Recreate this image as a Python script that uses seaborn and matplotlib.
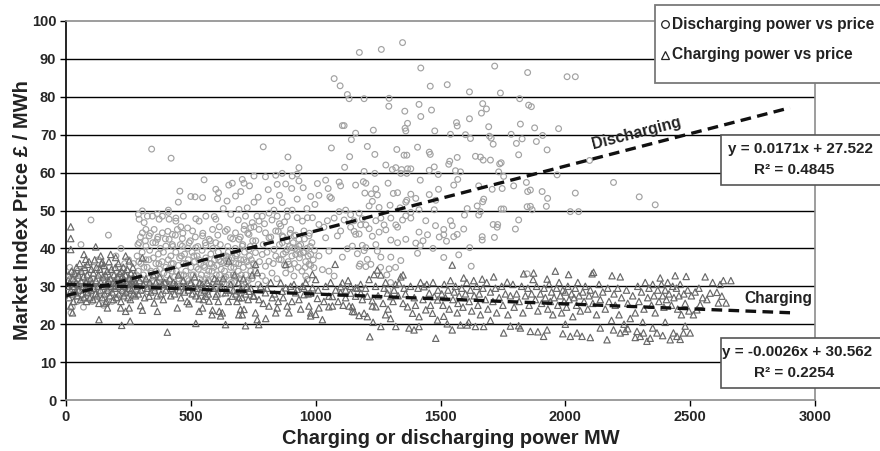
import pandas as pd
import matplotlib.pyplot as plt
import seaborn as sns
from matplotlib.lines import Line2D
from matplotlib.patches import Rectangle

# Discharging power (MW) vs market index price (GBP/MWh)
discharge_0_280 = [
    (15, 35), (20, 23), (25, 24.5), (30, 33), (35, 31), (40, 28), (45, 26), (50, 32), (55, 30), (60, 41),
    (65, 29), (70, 24.5), (75, 34), (80, 27), (85, 31), (90, 33), (95, 29), (100, 47.5), (105, 26), (110, 35),
    (115, 30), (120, 28), (125, 32), (130, 37), (135, 27), (140, 33), (145, 30), (150, 25), (155, 34), (160, 31),
    (165, 28), (170, 43.5), (175, 35), (180, 29), (185, 26), (190, 33), (195, 31), (200, 38), (205, 27), (210, 35),
    (215, 30), (220, 40), (225, 32), (230, 28), (235, 36), (240, 30), (245, 34), (250, 37), (255, 29), (260, 33),
    (265, 31), (270, 36), (275, 28), (10, 30), (18, 32), (28, 29), (48, 34), (68, 31), (88, 28), (108, 32),
    (128, 30), (148, 29), (168, 33), (188, 30), (208, 32), (228, 30), (248, 31), (268, 32),
]
discharge_280_750 = [
    (343, 66.2), (421, 63.8), (553, 58.1), (600, 55.6), (611, 54.7), (607, 53.1), (456, 55.1), (450, 52.2),
    (500, 53.7), (517, 53.6), (547, 53.4), (410, 50.1),
    (290, 49), (306, 49.9), (326, 48.5), (293, 47.7), (313, 46.8), (320, 45), (346, 48.5), (366, 49.2),
    (373, 47.7), (386, 48.5), (413, 47.7), (440, 47.2), (460, 45.7), (487, 45.4), (520, 47.8), (533, 47.2),
    (560, 48.5), (594, 48.4), (600, 47.7), (614, 45.7), (306, 44.1), (333, 43.3), (353, 45), (366, 42.4),
    (386, 44.1), (413, 42.4), (426, 43.7), (446, 45), (466, 42.6), (507, 44.6), (547, 43.3), (573, 42.4),
    (587, 45), (293, 41.5), (320, 40.6), (359, 41.5), (400, 40.6), (426, 41), (466, 40.6), (493, 41.5),
    (520, 40.2), (560, 40.8), (600, 41.5), (410, 49.5), (440, 48), (470, 48.5),
    (285, 38), (290, 34), (295, 31), (300, 36), (305, 39), (310, 33), (315, 30.5), (320, 37), (325, 35),
    (330, 32), (335, 39.5), (340, 34), (345, 30), (350, 37.5), (355, 33), (360, 36), (365, 31), (370, 38.5),
    (375, 34.5), (380, 32), (385, 36.5), (390, 39), (395, 30.5), (400, 35), (405, 33), (410, 37), (415, 31.5),
    (420, 38), (425, 34), (430, 36), (435, 32.5), (440, 39), (445, 30), (450, 35.5), (455, 37.5), (460, 33),
    (465, 31), (470, 36), (475, 38.5), (480, 34), (485, 32), (490, 37), (495, 30.5), (500, 35), (505, 39),
    (510, 33), (515, 36.5), (520, 31), (525, 38), (530, 34.5), (535, 32), (540, 36), (545, 39.5), (550, 30.5),
    (555, 35), (560, 37.5), (565, 33), (570, 31.5), (575, 36), (580, 38.5), (585, 34), (590, 32), (595, 37),
    (600, 30), (605, 35.5), (610, 39), (615, 33), (620, 36.5), (625, 31), (630, 38), (635, 34), (640, 32.5),
    (645, 36), (650, 39), (655, 30.5), (660, 35), (665, 37.5), (670, 33), (675, 31), (680, 36), (685, 38.5),
    (690, 34), (695, 32), (700, 37), (705, 30), (710, 35), (715, 39), (720, 33), (725, 36.5), (730, 31.5),
    (735, 38), (740, 34), (745, 32), (750, 36),
    (288, 41), (298, 43), (308, 29), (318, 42), (328, 28.5), (338, 44), (348, 41.5), (358, 29.5), (368, 43),
    (378, 40), (388, 28), (398, 42.5), (408, 44.5), (418, 29), (428, 40.5), (438, 43.5), (448, 28.5), (458, 41),
    (468, 44), (478, 29.5), (488, 40), (498, 42), (508, 28), (518, 43), (528, 40.5), (538, 29), (548, 44),
    (558, 41.5), (568, 28.5), (578, 42), (588, 40), (598, 29.5), (608, 43.5), (618, 41), (628, 28), (638, 44.5),
    (648, 40.5), (658, 29), (668, 42.5), (678, 40), (688, 28.5), (698, 43), (708, 41), (718, 29.5), (728, 44),
    (738, 40.5), (748, 42),
    (282, 33), (292, 36.5), (302, 32), (312, 35), (322, 31), (332, 37), (342, 33.5), (352, 31), (362, 34),
    (372, 36), (382, 30), (392, 33.5), (402, 31), (412, 34.5), (422, 36), (432, 30), (442, 34), (452, 32),
    (462, 38), (472, 33), (482, 36), (492, 31.5), (502, 33), (512, 38), (522, 35), (532, 37), (542, 33),
    (552, 35.5), (562, 32), (572, 34), (582, 36), (592, 35), (602, 33), (612, 37), (622, 34.5), (632, 32),
    (642, 38), (652, 33), (662, 31), (672, 35), (682, 32.5), (692, 36), (702, 33), (712, 37), (722, 31),
    (732, 35.5), (742, 37),
]
discharge_650_1000 = [
    (652, 56.7), (666, 57.2), (706, 58.2), (713, 57.2), (753, 59.1), (799, 58.9), (840, 59.3), (866, 59.8),
    (846, 56.9), (906, 59.1), (926, 59.6), (933, 57.8), (904, 55.8), (679, 53.8), (753, 52.2), (820, 52.5),
    (866, 52.1), (926, 53), (980, 53.7), (997, 51.6), (790, 66.8), (889, 64.1), (933, 61.3),
    (693, 50.3), (726, 50.7), (719, 48.5), (746, 46.8), (773, 47.2), (786, 48.5), (813, 49.3), (833, 50.1),
    (846, 48.5), (886, 49.9), (906, 50.1), (886, 48.4), (926, 48.1), (947, 47.2), (967, 48.1), (987, 48.1),
    (646, 45), (659, 42.8), (679, 44.1), (693, 42.4), (713, 45), (733, 43.7), (753, 45.7), (773, 45),
    (799, 44.1), (813, 42.8), (840, 44.6), (860, 45.9), (866, 43.3), (900, 45), (913, 43.3), (933, 42.4),
    (953, 44.6), (973, 43.3), (866, 41.5), (886, 39.7), (906, 40.2), (833, 39.7), (840, 38), (853, 37.1),
    (933, 40.6), (953, 38.9), (920, 38.4), (980, 38.4), (706, 40.6), (733, 39.7), (759, 38.9), (786, 38.4),
    (679, 38), (652, 37.1), (632, 36.2), (813, 36.6), (799, 35.3), (759, 34), (786, 32.7), (893, 35.8),
    (913, 32.7), (973, 35.8), (993, 34.9), (960, 32.7), (966, 31.8),
    (855, 41), (862, 37), (870, 43), (875, 35.5), (880, 39), (885, 42), (890, 36.5), (895, 40.5), (900, 34.5),
    (905, 38), (910, 41.5), (915, 36), (920, 43.5), (925, 39.5), (930, 35), (935, 37.5), (940, 41), (945, 34),
    (950, 39), (955, 42.5), (960, 36.5), (965, 40), (970, 38), (975, 44), (980, 35.5), (985, 41.5), (990, 37),
    (995, 39.5), (870, 38.5), (880, 33.5), (898, 44), (918, 40), (938, 38.5), (958, 35), (978, 40.5),
    (760, 42), (775, 36.5), (790, 41), (805, 39), (820, 43), (830, 36), (850, 44.5), (770, 30.5), (800, 31.5),
    (825, 33.5), (845, 32), (740, 45.5), (765, 48.5), (795, 46.5), (825, 47.5), (855, 46.5), (875, 47),
    (690, 47.5), (715, 46), (660, 49), (630, 50.5), (645, 52.5), (700, 55), (735, 56.5), (770, 53.5),
    (810, 55.5), (855, 54), (880, 57), (950, 56), (965, 50.5),
]
discharge_1000_1500 = [
    (1175, 91.7), (1263, 92.5), (1348, 94.3), (1074, 84.8), (1098, 82.9), (1421, 87.6), (1459, 82.8),
    (1127, 80.6), (1134, 79.5), (1194, 79.5), (1294, 79.6), (1293, 77.5), (1414, 78), (1464, 76.5),
    (1357, 76.2), (1421, 74.8), (1368, 73), (1107, 72.4), (1114, 72.4), (1160, 70.4), (1143, 68.7),
    (1231, 71.2), (1361, 71), (1358, 71.7), (1477, 71), (1063, 66.5), (1207, 66.9), (1136, 64.2),
    (1237, 64.8), (1325, 66.1), (1408, 66.7), (1455, 65.4), (1459, 64.8), (1354, 64.6), (1365, 64.6),
    (1116, 61.4), (1194, 60.3), (1237, 59.8), (1281, 62), (1307, 60.8), (1321, 61.3), (1344, 60.8),
    (1341, 59.8), (1365, 59.8), (1368, 61), (1381, 61), (1419, 58), (1455, 60.6), (1475, 61.5), (1491, 59.5),
    (1007, 57.1), (1040, 58), (1050, 55.8), (1057, 53.6), (1063, 53.2), (1013, 54), (1094, 57.5),
    (1100, 56.5), (1160, 56.7), (1191, 57.6), (1201, 57.2), (1197, 54.6), (1241, 55.7), (1223, 54.4),
    (1247, 54.1), (1227, 52.4), (1214, 51.2), (1254, 50.8), (1290, 57.2), (1311, 54.5), (1328, 54.7),
    (1361, 52.2), (1365, 52.7), (1381, 54.3), (1401, 53.2), (1414, 50.2), (1298, 51.4), (1338, 50.7),
    (1381, 49.5), (1455, 54.2), (1492, 55.6), (1481, 52.7), (1475, 50.2),
    (1013, 46.3), (1033, 45.6), (1047, 47.3), (1074, 48), (1094, 49.7), (1120, 50.1), (1114, 47.5),
    (1140, 48.9), (1154, 47.3), (1174, 49.3), (1187, 47.8), (1180, 46.2), (1140, 45.6), (1154, 44.5),
    (1174, 43.8), (1201, 46.2), (1214, 45.2), (1241, 47.3), (1261, 48), (1274, 46.2), (1301, 48),
    (1321, 46.2), (1328, 45.6), (1254, 44.3), (1281, 44.9), (1301, 42.2), (1227, 43.2), (1241, 41),
    (1348, 47.5), (1361, 48.6), (1381, 48), (1414, 44.3), (1441, 47.3), (1448, 43.6), (1401, 41.4),
    (1408, 38.7), (1419, 40.7), (1361, 42.4), (1328, 41.5), (1194, 39.4), (1167, 38.6), (1201, 40.2),
    (1107, 37.7), (1127, 39.9), (1247, 39.3), (1261, 37.7), (1301, 37.7), (1294, 34.6), (1341, 36.8),
    (1201, 35.2), (1178, 35.9), (1040, 42.8), (1087, 43.3), (1100, 44.6), (1160, 43.7), (1187, 40.8),
    (1147, 40.6), (1207, 37.1), (1221, 35.8), (1174, 35.3), (1053, 39.3), (1013, 38), (1027, 34.4),
    (1053, 34), (1074, 32.7), (1430, 42), (1470, 40), (1480, 46), (1495, 43), (1260, 35), (1285, 33),
    (1300, 31), (1320, 35), (1290, 29),
]
discharge_1500_2400 = [
    (1717, 88.1), (1849, 86.4), (2007, 85.3), (2040, 85.3), (1527, 83.2), (1616, 81.3), (1740, 81),
    (1817, 79.5), (1853, 77.8), (1864, 77.4), (1669, 78.2), (1684, 76.8), (1664, 75.7), (1616, 74.2),
    (1564, 73.2), (1567, 72.3), (1820, 72.8), (1693, 72.1), (1877, 71.8), (1973, 71.6), (1540, 70.1),
    (1600, 70), (1620, 69), (1696, 69.6), (1703, 69.1), (1783, 70.1), (1827, 68.9), (1909, 69.8),
    (1804, 67.7), (1884, 68.2), (1711, 67.5), (1927, 66), (1813, 64.7), (1640, 64.3), (1660, 64.1),
    (1671, 63.3), (1700, 63.3), (1743, 62.6), (1737, 62.3), (1567, 64), (1537, 63), (1533, 62.2),
    (1733, 60.2), (1753, 59), (1560, 60.5), (1580, 60.2), (1569, 58.2), (1967, 59.4), (2097, 63.2),
    (1553, 56.7), (1653, 56.5), (1707, 55.6), (1747, 55.8), (1793, 56.5), (1844, 57.4), (1849, 55),
    (1860, 55.4), (1907, 55), (1929, 53.2), (2040, 54.6), (2193, 57.4), (2296, 53.6), (2360, 51.5),
    (1673, 53), (1669, 52.3), (1647, 51.2), (1660, 49.7), (1653, 48.8), (1607, 50.5), (1596, 48.8),
    (1743, 50.4), (1753, 50.4), (1847, 51), (1867, 50.2), (1860, 51.1), (1924, 51.1), (2020, 49.7),
    (2053, 49.7), (1813, 47.5), (1711, 46.3), (1729, 46.3), (1727, 45.6), (1800, 45.1), (1593, 45.1),
    (1540, 47.3), (1547, 46), (1513, 45), (1513, 43.6), (1567, 43.7), (1553, 43.1), (1667, 43.1),
    (1667, 42.2), (1716, 42.9), (1524, 41.9), (1617, 40.2), (1573, 38.3), (1513, 37.6), (1623, 35.3),
    (1847, 33.3),
]

# Charging power (MW) vs market index price (GBP/MWh)
charge_0_280 = [
    (19, 45.7), (19, 42.6), (19, 39.7), (119, 40.4), (72, 38.4), (79, 37.1), (86, 35.8), (139, 38),
    (146, 36.4), (179, 38.4), (199, 37.6), (239, 38), (253, 36.7), (226, 32.7), (253, 32.2), (273, 31.4),
    (19, 24.8), (26, 23), (132, 21.2), (223, 19.7), (257, 20.8), (159, 25.6), (166, 24.3), (219, 24.3),
    (239, 23.4), (253, 24.3),
    (5, 30), (10, 33), (12, 27), (15, 31), (20, 29), (22, 34), (25, 28), (28, 32), (30, 26), (32, 30),
    (35, 33.5), (38, 28.5), (40, 31), (42, 35), (45, 27.5), (48, 30.5), (50, 33), (52, 29), (55, 36),
    (58, 26.5), (60, 31.5), (62, 34), (65, 28), (68, 30), (70, 32.5), (72, 27), (75, 35), (78, 29.5),
    (80, 31), (82, 26), (85, 33), (88, 28.5), (90, 30.5), (92, 36.5), (95, 27), (98, 32), (100, 29),
    (102, 34.5), (105, 31), (108, 26.5), (110, 33.5), (112, 29.5), (115, 37), (118, 28), (120, 31.5),
    (122, 35), (125, 27.5), (128, 30), (130, 33), (132, 25.5), (135, 34.5), (138, 29), (140, 31), (142, 36),
    (145, 27), (148, 32.5), (150, 30), (152, 35.5), (155, 28), (158, 33), (160, 30.5), (162, 26), (165, 34),
    (168, 29), (170, 31.5), (172, 36.5), (175, 27.5), (178, 32), (180, 30), (182, 34.5), (185, 28.5),
    (188, 31), (190, 26.5), (192, 33), (195, 29.5), (198, 35), (200, 31), (202, 27), (205, 32.5), (208, 30),
    (210, 36), (212, 28), (215, 33.5), (218, 30.5), (220, 26), (222, 34), (225, 29), (228, 31.5), (230, 35),
    (232, 27.5), (235, 30), (238, 33), (240, 28.5), (242, 31), (245, 34.5), (248, 27), (250, 29.5),
    (252, 32), (255, 30.5), (258, 26.5), (260, 33.5), (262, 29), (265, 31), (268, 35), (270, 28),
    (272, 30.5), (275, 33), (278, 27.5), (280, 31),
]
charge_280_750 = [
    (306, 37.5), (306, 23.7), (299, 24.9), (366, 23.4), (446, 24.3), (493, 25.4), (533, 23.4), (547, 24.3),
    (587, 23.7), (614, 23.4), (333, 27.4), (353, 25.6), (533, 26.7), (560, 27.4), (573, 26.1), (600, 27.4),
    (406, 17.9), (520, 20.2), (606, 31.4), (619, 29.6), (639, 28.3), (666, 27.4), (693, 27), (699, 23.9),
    (713, 23.9), (626, 23), (639, 19.9), (719, 19.6), (733, 28.7), (652, 36.7), (585, 22.5), (619, 22.2),
    (692, 22.5), (706, 22.5),
    (285, 30), (290, 28), (295, 31.5), (300, 29), (310, 30.5), (315, 27), (320, 32), (325, 29.5), (335, 31),
    (340, 28.5), (345, 30), (350, 33), (355, 29), (360, 31), (365, 27.5), (370, 30), (375, 32.5), (380, 28),
    (385, 30.5), (390, 26.5), (395, 31), (400, 29), (410, 30), (415, 32), (420, 27.5), (425, 29.5),
    (430, 31), (435, 28), (440, 30.5), (450, 33), (455, 29), (460, 27), (465, 30), (470, 31.5), (475, 28.5),
    (480, 30), (485, 26), (490, 29), (500, 31), (505, 28), (510, 30), (515, 32.5), (520, 27.5), (525, 29.5),
    (535, 31), (540, 28.5), (545, 30.5), (550, 26.5), (555, 29), (565, 31), (570, 28), (580, 30),
    (590, 29.5), (595, 32), (605, 28), (610, 26), (625, 30), (630, 32), (645, 29), (650, 26), (660, 30.5),
    (670, 29), (675, 33), (680, 28), (685, 26), (690, 31), (700, 29), (705, 27), (710, 32), (720, 28),
    (725, 30), (730, 26.5), (740, 29.5), (745, 33), (750, 27.5),
]
charge_750_1500 = [
    (759, 35.8), (766, 33.6), (880, 35.8), (1078, 35.8), (987, 33.1), (1000, 31.8), (1107, 30.9),
    (1140, 30), (1160, 29.6), (1214, 31.8), (1234, 33.1), (753, 27.4), (773, 26.5), (799, 28.3),
    (813, 24.8), (826, 27), (840, 23), (846, 24.3), (866, 28.7), (886, 24.8), (893, 23), (920, 28.3),
    (933, 26.5), (953, 27.8), (973, 24.8), (980, 23), (1000, 22.6), (1013, 24.3), (1027, 21.2),
    (987, 29.6), (1053, 27.4), (1067, 24.8), (1100, 28.3), (1120, 27), (1134, 24.8), (1147, 23.4),
    (1160, 27.4), (1174, 22.3), (1187, 26.5), (1207, 27.4), (1227, 24.8), (1217, 16.7), (913, 30.5),
    (926, 29.2), (947, 30), (860, 30.9), (880, 29.6), (759, 23), (766, 21.2), (772, 19.9), (800, 21.5),
    (953, 29.5), (980, 28.2), (1007, 26.8), (1033, 26), (1053, 24.6), (1067, 27.3), (980, 22.2),
    (1100, 29.9), (1120, 29), (1140, 28.2), (1147, 24.6), (1154, 23.3), (1247, 34.3), (1261, 33),
    (1274, 29.5), (1287, 28.2), (1301, 27.3), (1314, 29), (1261, 19.4), (1321, 19.4), (1341, 32.5),
    (1334, 30.8), (1354, 29.5), (1368, 24.6), (1388, 22.9), (1414, 22), (1374, 19), (1394, 18.5),
    (1414, 19.4), (1481, 16.3), (1434, 29.9), (1455, 28.2), (1475, 27.3), (1488, 26.4), (1441, 23.8),
    (1468, 22.9), (1488, 21.1), (1227, 26.2), (1241, 24.6), (1194, 22.9), (1207, 22), (1167, 29.5),
    (1181, 28.2),
    (780, 30), (790, 25.5), (805, 29.5), (820, 31), (835, 28), (850, 26), (870, 27), (900, 30), (905, 26),
    (940, 24), (960, 31), (970, 28), (1010, 29), (1040, 30), (1060, 31), (1080, 29), (1090, 26), (1110, 25),
    (1130, 31.5), (1180, 30.5), (1200, 29.5), (1240, 30), (1250, 27.5), (1270, 25.5), (1280, 31), (1290, 24),
    (1310, 26), (1320, 30.5), (1330, 27.5), (1350, 25.5), (1360, 28), (1380, 30), (1395, 27), (1400, 25),
    (1410, 29.5), (1420, 31), (1430, 26.5), (1445, 30.5), (1460, 25), (1470, 31), (1490, 29), (1350, 33),
    (1300, 21.5), (1230, 20.5), (1280, 22.5),
]
charge_1500_2670 = [
    (1547, 35.6), (1960, 34), (2013, 33.1), (2107, 33.3), (2113, 33.7), (2187, 32.8), (2220, 32.5),
    (1873, 33.5), (1927, 31.9), (1871, 31.8), (1833, 33.3), (1713, 32.5), (1767, 31.1), (1593, 32.2),
    (1633, 31.5), (1667, 31.9), (2380, 32.2), (2440, 32.8), (2484, 32.6), (2560, 32.5), (2633, 31.5),
    (2663, 31.5), (2580, 28.2), (2607, 28.4), (2627, 27.4), (2644, 25.6), (2613, 25.6), (2567, 26.5),
    (2540, 25.2), (2527, 23.8), (2513, 22.5), (2500, 17.7), (2473, 17.7), (2433, 17.7), (2447, 16.8),
    (2420, 15.9), (2367, 17.7), (2340, 16.3), (2327, 15.5), (2287, 18.1), (2300, 16.8), (2313, 17.7),
    (2193, 18.5), (2220, 17.7), (2240, 18.1), (2167, 15.9), (2047, 17.7), (2067, 16.8), (2020, 16.8),
    (1927, 18.5), (1913, 16.8), (1860, 18.1), (1820, 19), (1813, 19.6), (1753, 17.7), (1673, 19.4),
    (1640, 19.4), (1613, 20.5), (1547, 18.5), (1580, 19.8), (1607, 19.8), (1527, 20.1), (1513, 22.1),
    (1567, 23),
    (1505, 28), (1510, 25), (1515, 30.5), (1520, 27), (1530, 29), (1535, 24), (1540, 31.5), (1550, 26.5),
    (1555, 28.5), (1560, 30), (1570, 25.5), (1575, 27.5), (1585, 29.5), (1590, 24.5), (1600, 28),
    (1605, 31), (1615, 26), (1620, 29), (1625, 23.5), (1635, 27.5), (1645, 30), (1650, 25), (1655, 28),
    (1660, 22.5), (1670, 29.5), (1680, 26.5), (1685, 31), (1690, 24), (1700, 28.5), (1710, 26),
    (1720, 29.5), (1725, 23), (1735, 27), (1745, 30), (1750, 25), (1760, 28), (1770, 22.5), (1780, 27.5),
    (1790, 30.5), (1795, 24.5), (1805, 28), (1815, 26), (1825, 30), (1830, 23), (1840, 27.5), (1850, 29.5),
    (1855, 25), (1865, 28), (1880, 26.5), (1885, 30), (1890, 23.5), (1900, 28), (1905, 25.5), (1915, 29.5),
    (1920, 27), (1930, 24), (1935, 30.5), (1940, 26), (1945, 28.5), (1950, 22.5), (1955, 27), (1965, 29.5),
    (1970, 25), (1975, 31), (1980, 27.5), (1985, 23), (1990, 29), (1995, 26), (2000, 28.5), (2005, 24.5),
    (2010, 30), (2015, 26.5), (2025, 28), (2030, 22), (2035, 27), (2040, 29.5), (2045, 25), (2050, 31),
    (2055, 27.5), (2060, 23.5), (2070, 28.5), (2075, 26), (2080, 30), (2090, 24), (2095, 27.5), (2100, 29),
    (2110, 25.5), (2120, 28), (2125, 22.5), (2135, 30.5), (2140, 26.5), (2150, 28.5), (2160, 24),
    (2170, 29.5), (2175, 26), (2185, 21), (2195, 28), (2200, 25), (2210, 29.5), (2215, 22.5), (2225, 27),
    (2235, 20), (2245, 29), (2250, 25.5), (2260, 21.5), (2270, 27.5), (2280, 23), (2290, 30), (2295, 26),
    (2305, 28.5), (2315, 24), (2320, 31), (2330, 27), (2335, 29.5), (2345, 25), (2350, 30.5), (2355, 27.5),
    (2360, 23), (2370, 29), (2375, 26), (2385, 30.5), (2390, 27.5), (2395, 24.5), (2400, 29), (2405, 26.5),
    (2410, 31), (2415, 28), (2425, 25), (2430, 30), (2435, 27), (2445, 29.5), (2450, 24), (2455, 27.5),
    (2460, 30.5), (2465, 22.5), (2475, 28), (2480, 25.5), (2490, 29), (2495, 23.5), (2505, 27.5),
    (2520, 28.5), (2535, 29.5), (2550, 27), (2590, 31), (2620, 30.5), (1990, 17.5), (2100, 16.5),
    (2280, 16.5), (2390, 17), (2460, 16), (2250, 18.8), (1890, 18), (1780, 19.5), (2140, 19), (2000, 20),
    (1700, 21), (2480, 19.5), (2400, 20.5), (2350, 19), (2310, 20.5),
]

# Excel linear trendlines as printed on the chart
trend_x = [0, 2900]
dis_slope, dis_icept, dis_r2 = 0.0171, 27.522, "0.4845"
chg_slope, chg_icept, chg_r2 = -0.0026, 30.562, "0.2254"

dis = pd.DataFrame(discharge_0_280 + discharge_280_750 + discharge_650_1000
                   + discharge_1000_1500 + discharge_1500_2400, columns=["mw", "price"])
chg = pd.DataFrame(charge_0_280 + charge_280_750 + charge_750_1500 + charge_1500_2670,
                   columns=["mw", "price"])

sns.set_theme(style="white")
plt.rcParams["font.family"] = ["Liberation Sans", "DejaVu Sans"]
plt.rcParams["font.weight"] = "bold"

W, H = 880, 451
fig = plt.figure(figsize=(W / 100, H / 100), dpi=100)
ax = fig.add_axes([66 / W, 1 - 400 / H, 749 / W, 379 / H])


def px(x, y):
    return x / W, 1 - y / H


for v in range(10, 100, 10):
    ax.axhline(v, color="black", lw=1.0, zorder=0)

sns.scatterplot(data=dis, x="mw", y="price", ax=ax, marker="o", s=17,
                facecolor="none", edgecolor="#a2a2a2", linewidth=0.85, zorder=2)
sns.scatterplot(data=chg, x="mw", y="price", ax=ax, marker="^", s=21,
                facecolor="none", edgecolor="#686868", linewidth=0.85, zorder=3)

ax.plot(trend_x, [dis_icept + dis_slope * x for x in trend_x], color="#111111",
        lw=2.4, dashes=(3.2, 1.9), zorder=5)
ax.plot(trend_x, [chg_icept + chg_slope * x for x in trend_x], color="#111111",
        lw=2.4, dashes=(3.2, 1.9), zorder=5)

ax.text(2285, 70.3, "Discharging", rotation=14.5, ha="center", va="center",
        fontsize=11.4, fontweight="bold", color="#222222", zorder=6)
ax.text(2853, 26.9, "Charging", ha="center", va="center",
        fontsize=11.2, fontweight="bold", color="#222222", zorder=6)

ax.set_xlim(0, 3000)
ax.set_ylim(0, 100)
ax.set_xticks(range(0, 3001, 500))
ax.set_yticks(range(0, 101, 10))
ax.tick_params(axis="both", labelsize=10.5, length=4, width=1, color="black",
               direction="out", pad=3, bottom=True, left=True)
for lab in ax.get_xticklabels() + ax.get_yticklabels():
    lab.set_fontweight("bold")
ax.set_xlabel("Charging or discharging power MW", fontsize=14.4, fontweight="bold", color="#222222")
ax.set_ylabel("Market Index Price £ / MWh", fontsize=14.5, fontweight="bold", color="#222222")
ax.xaxis.set_label_coords((451 - 66) / 749, -0.077)
ax.yaxis.set_label_coords((32 - 66) / 749, 0.5)

ax.spines["left"].set_color("black")
ax.spines["left"].set_linewidth(1.2)
for side in ["top", "right", "bottom"]:
    ax.spines[side].set_color("#8c8c8c")
    ax.spines[side].set_linewidth(1.2)

# legend box (runs past the right edge like the original)
x0, y0 = px(655, 83)
fig.patches.append(Rectangle((x0, y0), 1.1 - x0, 78 / H, transform=fig.transFigure,
                             facecolor="white", edgecolor="#7a7a7a", lw=1.3, zorder=10))
for yy, mk, label in [(24, "o", "Discharging power vs price"), (55, "^", "Charging power vs price")]:
    mx, my = px(665, yy)
    fig.add_artist(Line2D([mx], [my], marker=mk, markersize=5.5, markerfacecolor="none",
                          markeredgecolor="#222222", markeredgewidth=0.9,
                          transform=fig.transFigure, zorder=11))
    tx, ty = px(672, yy)
    fig.text(tx, ty, label, ha="left", va="center", fontsize=11.2, fontweight="bold",
             color="#222222", zorder=11)

# equation boxes
for top, tx0, eq, r2 in [(135, 728, f"y = {dis_slope}x + {dis_icept}", dis_r2),
                         (338, 722, f"y = {chg_slope}x + {chg_icept}", chg_r2)]:
    bx, by = px(721, top + 50)
    fig.patches.append(Rectangle((bx, by), 1.1 - bx, 50 / H, transform=fig.transFigure,
                                 facecolor="white", edgecolor="#555555", lw=1.2, zorder=10))
    tx, ty = px(tx0, top + 14)
    fig.text(tx, ty, eq, ha="left", va="center", fontsize=11, fontweight="bold",
             color="#222222", zorder=11)
    tx, ty = px(754, top + 35)
    fig.text(tx, ty, f"R² = {r2}", ha="left", va="center", fontsize=11, fontweight="bold",
             color="#222222", zorder=11)

fig.savefig("out.png", dpi=100)
